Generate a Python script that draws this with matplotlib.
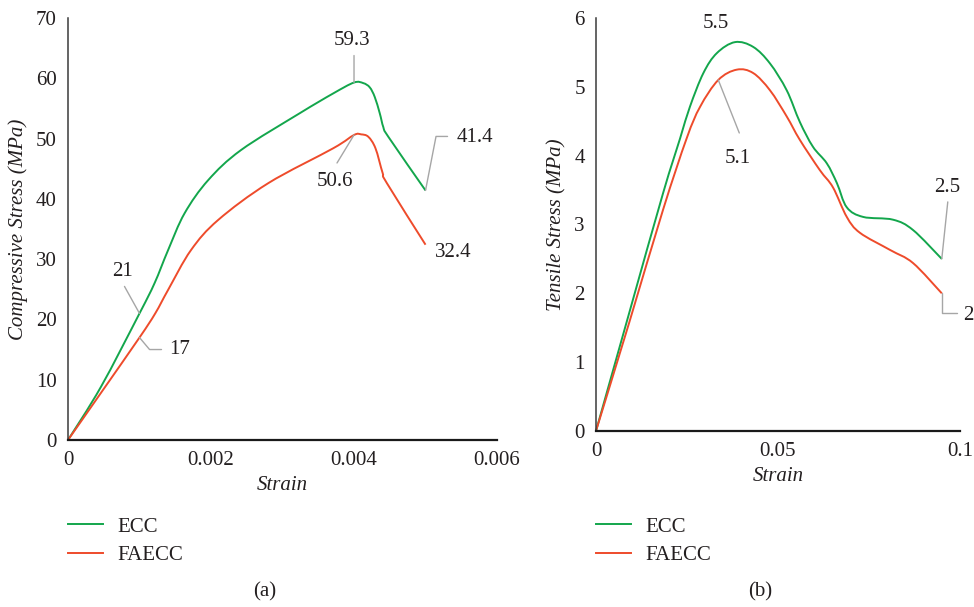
import matplotlib
matplotlib.use('Agg')
from matplotlib import pyplot as plt
from matplotlib.path import Path
from matplotlib.patches import PathPatch
from matplotlib.lines import Line2D

plt.rcParams['font.family'] = ['Liberation Serif', 'DejaVu Serif']
plt.rcParams['font.size'] = 15
plt.rcParams['text.color'] = '#231f20'
plt.rcParams['axes.labelcolor'] = '#231f20'
plt.rcParams['xtick.color'] = '#231f20'
plt.rcParams['ytick.color'] = '#231f20'

VERDE = '#13a64c'
VERMELHO = '#ee4b2b'
CINZA = '#a6a6a6'

# (a) compressao
comp_strain_ecc = [0, 0.00046, 0.001, 0.00121, 0.0014, 0.00163, 0.00196, 0.00242,
                   0.00324, 0.00371, 0.004, 0.00413, 0.00422, 0.00429, 0.00436,
                   0.00441, 0.00448, 0.005]
comp_stress_ecc = [0, 8.8, 21, 26, 31.5, 37.6, 43.1, 48.1,
                   54.2, 57.5, 59.3, 59.2, 58.5, 56.9, 54.2,
                   51.9, 50.3, 41.4]
comp_strain_faecc = [0, 0.00046, 0.001, 0.00122, 0.0014, 0.00172, 0.0021, 0.0028,
                     0.00371, 0.004, 0.0041, 0.0042, 0.0043, 0.0044,
                     0.00446, 0.005]
comp_stress_faecc = [0, 7.8, 17, 21, 24.9, 31.5, 36.5, 42.6,
                     48.4, 50.6, 50.7, 50.3, 48.4, 44.3,
                     42.6, 32.4]

# (b) tracao
tens_strain_ecc = [0, 0.0091, 0.0184, 0.0231, 0.0258, 0.0295, 0.0332, 0.0382,
                   0.0432, 0.0478, 0.0524, 0.056, 0.0596, 0.0634, 0.0662,
                   0.0689, 0.0734, 0.0816, 0.0871, 0.095]
tens_stress_ecc = [0, 1.71, 3.45, 4.25, 4.71, 5.2, 5.49, 5.65,
                   5.58, 5.34, 4.95, 4.49, 4.13, 3.89, 3.6,
                   3.25, 3.11, 3.07, 2.92, 2.5]
tens_strain_faecc = [0, 0.0091, 0.0184, 0.0249, 0.0286, 0.0336, 0.0387, 0.0432,
                     0.0478, 0.0524, 0.056, 0.0615, 0.0651, 0.0689, 0.0725,
                     0.0808, 0.0871, 0.095]
tens_stress_faecc = [0, 1.57, 3.21, 4.25, 4.71, 5.1, 5.25, 5.2,
                     4.95, 4.57, 4.23, 3.79, 3.54, 3.11, 2.88,
                     2.63, 2.44, 2.0]

# rotulos: texto, x, y, deslocamento do texto (px), alinhamento,
# inicio da linha guia (px) ou None, estilo da linha
rotulos_comp = [
    ('59.3', 0.004, 59.3, (-2, 42), 'center', (0, 27), 'arc3'),
    ('50.6', 0.004, 50.6, (-19, -47), 'center', (-17, -28), 'arc3'),
    ('41.4', 0.005, 41.4, (31, 53), 'left', (22, 54), 'angle,angleA=0,angleB=79,rad=0'),
    ('32.4', 0.005, 32.4, (9, -8), 'left', None, None),
    ('21', 0.001, 21, (-17, 42), 'center', (-15, 27), 'arc3'),
    ('17', 0.001, 17, (30, -12), 'left', (22, -12), 'angle,angleA=0,angleB=-50,rad=0'),
]
rotulos_tens = [
    ('5.5', 0.034, 5.5, (-4, 29), 'center', None, None),
    ('5.1', 0.0336, 5.1, (19, -79), 'center', (21, -53), 'arc3'),
    ('2.5', 0.095, 2.5, (5, 71), 'center', (6, 57), 'arc3'),
    ('2', 0.095, 2.0, (21, -22), 'left', (15, -20), 'angle,angleA=0,angleB=90,rad=0'),
]


def curva_suave(ax, xs, ys, cor):
    # linha suavizada estilo Excel (Bezier pelos pontos)
    pts = list(zip(xs, ys))
    n = len(pts)
    verts = [pts[0]]
    codes = [Path.MOVETO]
    for i in range(n - 1):
        p0 = pts[max(i - 1, 0)]
        p1 = pts[i]
        p2 = pts[i + 1]
        p3 = pts[min(i + 2, n - 1)]
        c1 = (p1[0] + (p2[0] - p0[0]) / 6, p1[1] + (p2[1] - p0[1]) / 6)
        c2 = (p2[0] - (p3[0] - p1[0]) / 6, p2[1] - (p3[1] - p1[1]) / 6)
        verts += [c1, c2, p2]
        codes += [Path.CURVE4] * 3
    patch = PathPatch(Path(verts, codes), facecolor='none', edgecolor=cor,
                      lw=1.4, clip_on=False)
    ax.add_patch(patch)


def montar_eixo(ax, xmax, ymax, xticks, xticklabels, ylabel):
    ax.set_xlim(0, xmax)
    ax.set_ylim(0, ymax)
    ax.set_xticks(xticks)
    ax.set_xticklabels(xticklabels)
    ax.spines['top'].set_visible(False)
    ax.spines['right'].set_visible(False)
    ax.spines['left'].set_color('#3a3a3a')
    ax.spines['left'].set_linewidth(1.1)
    ax.spines['bottom'].set_color('#1a1a1a')
    ax.spines['bottom'].set_linewidth(1.6)
    ax.tick_params(length=0, pad=8, labelsize=15)
    ax.set_xlabel('Strain', style='italic', fontsize=15, labelpad=4)
    ax.set_ylabel(ylabel, style='italic', fontsize=15, labelpad=6)


def rotular(ax, rotulos):
    for texto, x, y, off, ha, guia, estilo in rotulos:
        ax.annotate(texto, xy=(x, y), xytext=off, textcoords='offset pixels',
                    ha=ha, va='center', fontsize=15)
        if guia is not None:
            ax.annotate('', xy=(x, y), xytext=guia, textcoords='offset pixels',
                        arrowprops=dict(arrowstyle='-', color=CINZA, lw=1,
                                        shrinkA=0, shrinkB=0,
                                        connectionstyle=estilo))


def legenda(ax, x_fig):
    handles = [Line2D([], [], color=VERDE, lw=1.4),
               Line2D([], [], color=VERMELHO, lw=1.4)]
    ax.legend(handles, ['ECC', 'FAECC'], loc='upper left',
              bbox_to_anchor=(x_fig, 1 - 517 / 607),
              bbox_transform=fig.transFigure, frameon=False, borderpad=0,
              borderaxespad=0, handlelength=1.68, handletextpad=0.67,
              labelspacing=0.43, fontsize=15)


fig = plt.figure(figsize=(9.74, 6.07), dpi=100)

ax1 = fig.add_axes([0.0698, 0.2751, 0.4405, 0.6952])
curva_suave(ax1, comp_strain_ecc, comp_stress_ecc, VERDE)
curva_suave(ax1, comp_strain_faecc, comp_stress_faecc, VERMELHO)
montar_eixo(ax1, 0.006, 70, [0, 0.002, 0.004, 0.006],
            ['0', '0.002', '0.004', '0.006'], 'Compressive Stress (MPa)')
ax1.set_yticks(range(0, 71, 10))
rotular(ax1, rotulos_comp)
legenda(ax1, 68 / 974)

ax2 = fig.add_axes([0.6119, 0.2900, 0.3737, 0.6803])
curva_suave(ax2, tens_strain_ecc, tens_stress_ecc, VERDE)
curva_suave(ax2, tens_strain_faecc, tens_stress_faecc, VERMELHO)
montar_eixo(ax2, 0.1, 6, [0, 0.05, 0.1], ['0', '0.05', '0.1'],
            'Tensile Stress (MPa)')
ax2.set_yticks(range(0, 7))
rotular(ax2, rotulos_tens)
legenda(ax2, 596 / 974)

fig.text(265 / 974, 1 - 592 / 607, '(a)', ha='center', va='center', fontsize=15)
fig.text(760 / 974, 1 - 592 / 607, '(b)', ha='center', va='center', fontsize=15)

plt.savefig('out.png', dpi=100)
plt.close(fig)
